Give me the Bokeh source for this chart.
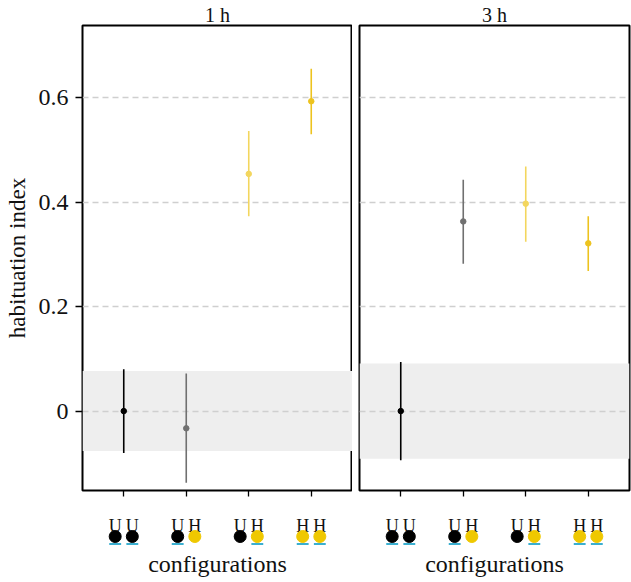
from bokeh.plotting import figure
from bokeh.models import Range1d, FixedTicker, BoxAnnotation, ColumnDataSource, Label
from bokeh.layouts import column, row
from bokeh.embed import file_html
from bokeh.resources import INLINE
from bokeh.core.properties import value

# ---------------- data ----------------
panel_titles = ["1 h", "3 h"]
x_axis_title = "configurations"
y_axis_title = "habituation index"
config_index = [1, 2, 3, 4]
left_letters = ["U", "U", "U", "H"]
right_letters = ["U", "H", "H", "H"]
left_dot = ["black", "black", "black", "yellow"]
right_dot = ["black", "yellow", "yellow", "yellow"]
left_underline = [True, True, False, True]
right_underline = [True, False, True, True]

means_1h = [0.0, -0.033, 0.454, 0.593]
lower_1h = [-0.080, -0.137, 0.373, 0.530]
upper_1h = [0.080, 0.072, 0.536, 0.655]
band_1h = [-0.0765, 0.0765]

means_3h = [0.0, 0.363, 0.397, 0.321]
lower_3h = [-0.094, 0.282, 0.324, 0.268]
upper_3h = [0.094, 0.443, 0.468, 0.373]
band_3h = [-0.091, 0.091]

y_ticks = [0, 0.2, 0.4, 0.6]
y_tick_labels = ["0", "0.2", "0.4", "0.6"]

# ---------------- style ----------------
SERIF = "Liberation Serif"
point_colors = ["#000000", "#707070", "#F3D65E", "#EDC31E"]
dot_colors = {"black": "#000000", "yellow": "#EFC800"}
underline_color = "#3AAFD0"
X_START, X_END = 0.34, 4.66
Y_START, Y_END = -0.152, 0.738
PANEL_H = 498
STRIP_H = 80


def make_panel(title, means, lower, upper, band, left):
    p = figure(
        output_backend="svg", toolbar_location=None,
        width=(82 + 270) if left else (7 + 270 + 2), height=PANEL_H,
        x_range=Range1d(X_START, X_END), y_range=Range1d(Y_START, Y_END),
        y_axis_location="left" if left else None,
        min_border_left=82 if left else 7, min_border_right=0 if left else 2,
        min_border_top=25, min_border_bottom=8,
        title=title,
    )
    p.title.align = "center"
    p.title.text_font = SERIF
    p.title.text_font_style = "normal"
    p.title.text_font_size = "20px"
    p.title.text_color = "#111111"
    p.title.standoff = 0
    p.title.offset = 0
    p.outline_line_color = "black"
    p.outline_line_width = 2
    p.background_fill_color = "white"
    p.border_fill_color = "white"
    p.xgrid.visible = False
    p.ygrid.ticker = FixedTicker(ticks=y_ticks)
    p.ygrid.grid_line_color = "#CFCFCF"
    p.ygrid.grid_line_dash = "6 4"
    p.ygrid.grid_line_width = 1.3

    p.xaxis.ticker = FixedTicker(ticks=config_index)
    p.xaxis.major_label_overrides = {c: "" for c in config_index}
    p.xaxis.major_label_text_color = None
    p.xaxis.major_label_standoff = 0
    p.xaxis.axis_line_color = None
    p.xaxis.major_tick_in = 0
    p.xaxis.major_tick_out = 6
    p.xaxis.major_tick_line_width = 1.3
    p.xaxis.minor_tick_line_color = None

    if left:
        p.yaxis.ticker = FixedTicker(ticks=y_ticks)
        p.yaxis.major_label_overrides = {t: l for t, l in zip(y_ticks, y_tick_labels)}
        p.yaxis.major_label_text_font = SERIF
        p.yaxis.major_label_text_font_size = "24px"
        p.yaxis.major_label_text_color = "#111111"
        p.yaxis.major_label_standoff = 7
        p.yaxis.axis_line_color = None
        p.yaxis.major_tick_in = 0
        p.yaxis.major_tick_out = 7
        p.yaxis.major_tick_line_width = 1.3
        p.yaxis.minor_tick_line_color = None
        p.yaxis.axis_label = y_axis_title
        p.yaxis.axis_label_text_font = SERIF
        p.yaxis.axis_label_text_font_style = "normal"
        p.yaxis.axis_label_text_font_size = "23px"
        p.yaxis.axis_label_text_color = "#111111"
        p.yaxis.axis_label_standoff = 6

    box = BoxAnnotation(bottom=band[0], top=band[1], fill_color="#EEEEEE",
                        fill_alpha=1.0, line_color=None, level="image")
    p.add_layout(box)

    src = ColumnDataSource(dict(x=config_index, m=means, lo=lower, hi=upper, c=point_colors))
    p.segment(x0="x", x1="x", y0="lo", y1="hi", line_color="c", line_width=1.6, source=src)
    p.scatter(x="x", y="m", size=5.5, color="c", source=src)
    return p


def make_strip(left):
    s = figure(
        output_backend="svg", toolbar_location=None,
        width=(82 + 270) if left else (7 + 270 + 2), height=STRIP_H,
        x_range=Range1d(X_START, X_END), y_range=Range1d(STRIP_H, 0),
        x_axis_location=None, y_axis_location=None,
        min_border_left=82 if left else 7, min_border_right=0 if left else 2,
        min_border_top=0, min_border_bottom=0,
    )
    s.outline_line_color = None
    s.xgrid.visible = False
    s.ygrid.visible = False
    off = 0.137
    half = 0.095
    xs, letters, cols, ux = [], [], [], []
    for i, c in enumerate(config_index):
        for dx, let, dot, ul in ((-off, left_letters[i], left_dot[i], left_underline[i]),
                                 (off, right_letters[i], right_dot[i], right_underline[i])):
            xs.append(c + dx)
            letters.append(let)
            cols.append(dot_colors[dot])
            if ul:
                ux.append(c + dx)
    s.text(x=xs, y=[27] * len(xs), text=letters, text_font=value(SERIF),
           text_font_size="18px", text_align="center", text_baseline="alphabetic",
           text_color="#111111")
    s.scatter(x=xs, y=[38] * len(xs), size=12, color=cols)
    s.segment(x0=[u - half for u in ux], x1=[u + half for u in ux],
              y0=[45.5] * len(ux), y1=[45.5] * len(ux),
              line_color=underline_color, line_width=2)
    lab = Label(x=(X_START + X_END) / 2, y=65, text=x_axis_title,
                text_font=SERIF, text_font_size="24px", text_align="center",
                text_baseline="middle", text_color="#111111")
    s.add_layout(lab)
    return s


p1 = make_panel(panel_titles[0], means_1h, lower_1h, upper_1h, band_1h, True)
p2 = make_panel(panel_titles[1], means_3h, lower_3h, upper_3h, band_3h, False)
s1 = make_strip(True)
s2 = make_strip(False)

layout = column(row(p1, p2), row(s1, s2))
open("out.html", "w").write(file_html(layout, INLINE))
